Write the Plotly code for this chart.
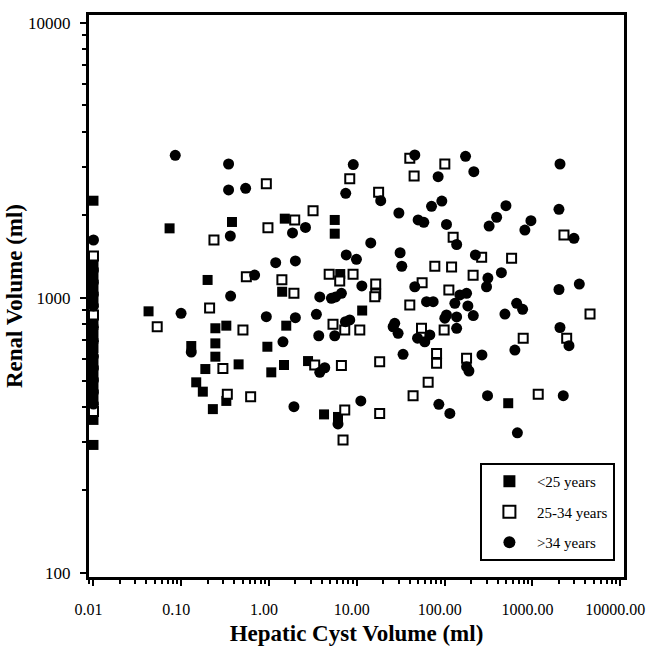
import plotly.graph_objects as go

# ---------------- data ----------------
# <25 years (filled squares)
young_x = [0.01, 0.0736, 0.1995, 0.378, 1.51, 5.6, 5.6, 1.41, 6.47, 0.0424,
           0.2445, 0.130, 0.2445, 0.2445, 0.188, 0.148, 0.176, 0.229, 0.326, 1.57,
           0.957, 0.450, 1.06, 1.48, 2.78, 0.326, 4.23, 6.1, 11.5, 530,
           0.01, 0.01, 0.01, 0.01, 0.01, 0.01, 0.01, 0.01, 0.01, 0.01, 0.01, 0.01, 0.01]
young_y = [2253, 1788, 1161, 1886, 1939, 1918, 1710, 1052, 1220, 893,
           775, 668, 683, 611, 551, 493, 456, 394, 792, 792,
           664, 573, 536, 570, 589, 422, 377, 369, 899, 414,
           1327, 1200, 1085, 982, 831, 739, 657, 584, 529, 478, 432, 360, 292]

# 25-34 years (open squares)
mid_x = [0.01, 0.2357, 0.931, 3.17, 0.971, 1.96, 8.3, 17.7, 40.1, 44.9,
         100.5, 125, 264, 579, 77.3, 120, 211, 2287, 4528, 4.84,
         9.05, 6.38, 16.4, 16.4, 55.4, 111.7, 0.551, 1.40, 1.92, 0.2103,
         0.0532, 0.504, 5.35, 7.28, 10.8, 16.0, 40.1, 54.5, 98.7, 0.298,
         3.31, 6.67, 18.2, 80.9, 80.9, 177.7, 0.3346, 0.617, 7.28, 6.96,
         64.9, 43.7, 18.2, 785, 2455, 1164, 0.01, 0.01]
mid_y = [1419, 1622, 2598, 2073, 1798, 1918, 2709, 2420, 3213, 2771,
         3063, 1659, 1404, 1392, 1302, 1294, 1207, 1691, 873, 1217,
         1217, 1151, 1122, 1032, 1135, 1067, 1193, 1163, 1038, 918,
         785, 764, 801, 764, 764, 1009, 942, 775, 764, 554,
         570, 567, 586, 628, 578, 603, 446, 437, 391, 304,
         493, 441, 380, 713, 713, 446, 866, 386]

# >34 years (filled circles)
old_x = [0.0854, 0.346, 0.346, 0.541, 0.362, 0.01, 1.85, 2.60, 1.19, 1.995,
         0.685, 0.365, 9.1, 7.47, 18.7, 30.1, 45.7, 173, 215, 84.3,
         2060, 70.9, 92.9, 49.9, 57.9, 105, 137, 499, 391, 321,
         961, 820, 2005, 2972, 14.4, 31.1, 32.5, 224, 443, 311,
         300, 661, 773, 486, 2005, 3419, 212, 2060, 7.57, 9.89,
         11.4, 6.67, 5.13, 3.78, 5.73, 8.3, 27.0, 45.7, 62.2, 74.0,
         130.7, 149, 177.7, 184, 105, 137, 100.5, 137, 0.0995, 0.130,
         0.931, 1.995, 3.46, 1.44, 3.68, 7.41, 5.6, 3.78, 4.31, 1.92,
         6.1, 25.9, 29.5, 49.1, 59.4, 67.8, 33.6, 177.7, 189, 266,
         11.1, 85.9, 114.6, 631, 2608, 308, 2245, 674,
         0.01, 0.01, 0.01, 0.01, 0.01, 0.01, 0.01, 0.01, 0.01, 0.01, 0.01]
old_y = [3294, 3063, 2465, 2500, 1677, 1622, 1720, 1801, 1341, 1361,
         1210, 1015, 3050, 2398, 2253, 2033, 3303, 3268, 2872, 2754,
         3063, 2150, 2247, 1918, 1881, 1847, 1562, 2161, 1962, 1823,
         1906, 1763, 2097, 1645, 1582, 1458, 1302, 1431, 1234, 1180,
         1097, 955, 908, 873, 1072, 1122, 862, 780, 1431, 1380,
         1104, 1038, 996, 1007, 1007, 831, 808, 1097, 968, 968,
         955, 1024, 1038, 934, 866, 852, 843, 775, 878, 635,
         854, 847, 871, 692, 728, 819, 728, 536, 557, 402,
         348, 785, 743, 713, 692, 733, 623, 562, 542, 620,
         422, 410, 380, 646, 670, 441, 441, 323,
         1262, 1141, 1032, 934, 783, 697, 614, 556, 503, 455, 411]

series_names = ["<25 years", "25-34 years", ">34 years"]
x_title = "Hepatic Cyst Volume (ml)"
y_title = "Renal Volume (ml)"

SERIF = "Liberation Serif, Times New Roman, serif"

fig = go.Figure()
fig.add_trace(go.Scatter(
    x=young_x, y=young_y, mode="markers", name=series_names[0], legendgroup="a",
    marker=dict(symbol="square", size=10, color="black", line=dict(color="black", width=0))))
fig.add_trace(go.Scatter(
    x=mid_x, y=mid_y, mode="markers", name=series_names[1], legendgroup="b",
    marker=dict(symbol="square", size=9, color="white", line=dict(color="black", width=2))))
fig.add_trace(go.Scatter(
    x=old_x, y=old_y, mode="markers", name=series_names[2], legendgroup="c",
    marker=dict(symbol="circle", size=11, color="black", line=dict(color="black", width=0))))

axis_common = dict(
    type="log", showgrid=False, zeroline=False,
    showline=True, linecolor="black", linewidth=3, mirror=True,
    ticks="outside", ticklen=6, tickwidth=2, tickcolor="black",
    ticklabeloverflow="allow",
    minor=dict(ticks="outside", ticklen=4, tickwidth=1.5, tickcolor="black", showgrid=False),
)

fig.update_xaxes(
    **axis_common, range=[-2.051, 4.043], dtick=1, tickformat=".2f",
    tickfont=dict(family=SERIF, size=16, color="black"),
    ticklabelstandoff=10, ticklabelshift=-5,
    title=dict(text=x_title, standoff=8,
               font=dict(family=SERIF, size=23, color="black", weight="bold")))
fig.update_yaxes(
    **axis_common, range=[1.9855, 4.0276], dtick=1, tickformat="d",
    tickfont=dict(family=SERIF, size=17, color="black"),
    ticklabelstandoff=6,
    title=dict(text=y_title, standoff=0,
               font=dict(family=SERIF, size=23, color="black", weight="bold")))

fig.update_layout(
    width=646, height=651,
    margin=dict(l=89, r=22, t=15, b=74, autoexpand=False),
    paper_bgcolor="white", plot_bgcolor="white",
    font=dict(family=SERIF, color="black"),
    showlegend=True,
    legend=dict(x=0.983, y=0.0285, xanchor="right", yanchor="bottom",
                bgcolor="white", bordercolor="black", borderwidth=2,
                font=dict(family=SERIF, size=15, color="black"),
                itemwidth=45, tracegroupgap=8, itemsizing="constant"),
)

fig.write_html("out.html",
               config={"displayModeBar": False},
               post_script="document.body.style.margin='0';document.body.style.overflow='hidden';")
